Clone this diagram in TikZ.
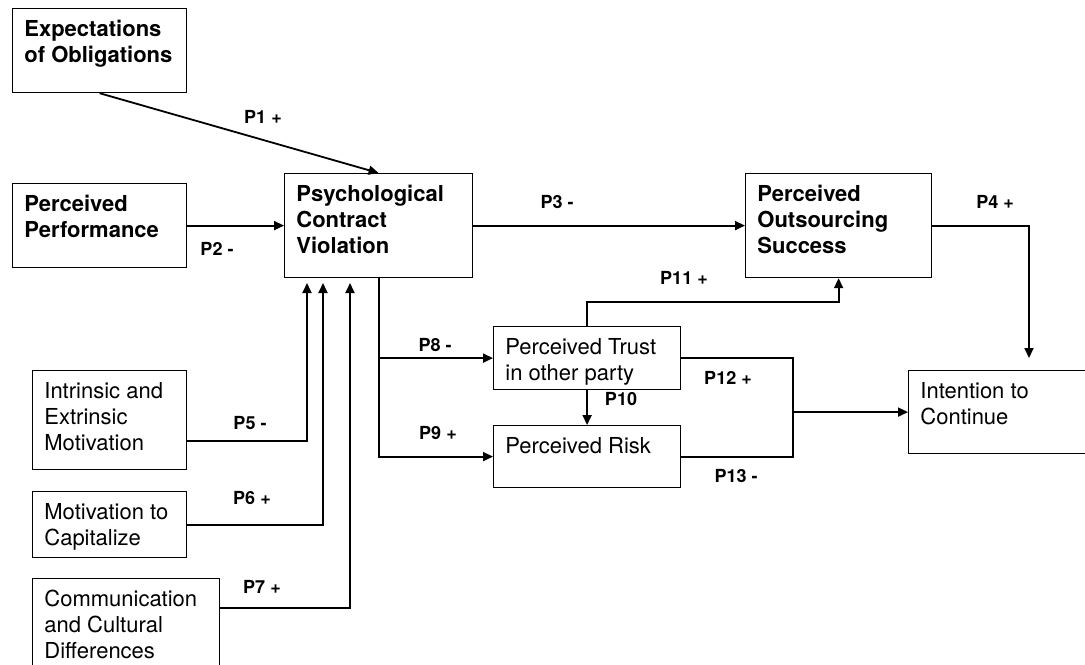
\documentclass[tikz,border=0pt]{standalone}
\usepackage{fontspec}
\setmainfont{TeX Gyre Heros}
\usetikzlibrary{arrows.meta}

\tikzset{
  box/.style={draw, line width=0.6pt, anchor=north west, inner sep=0pt},
  boxtext/.style={anchor=north west, align=left, inner xsep=6pt, inner ysep=6pt,
    font=\fontsize{11}{13}\selectfont},
  boldtext/.style={boxtext, font=\fontsize{11}{13}\selectfont\bfseries},
  plabel/.style={font=\fontsize{9}{10}\selectfont\bfseries, inner sep=0pt},
  link/.style={line width=0.9pt, -{Triangle[length=5pt,width=4.5pt]}},
  plain/.style={line width=0.9pt}
}

\begin{document}
\begin{tikzpicture}[x=0.5pt,y=-0.5pt]
\useasboundingbox (0,0) rectangle (1085,664);

% boxes: name / x / y / width / height / text style / text
\foreach \n/\x/\y/\w/\h/\s/\t in {
    exp/12/8/87/42/boldtext/{Expectations\\of Obligations},
    perf/12/183/87/42/boldtext/{Perceived\\Performance},
    pcv/284/173/94/52/boldtext/{Psychological\\Contract\\Violation},
    pos/745/173/93/52/boldtext/{Perceived\\Outsourcing\\Success},
    trust/493/326/93.5/31.5/boxtext/{Perceived Trust\\in other party},
    risk/493/425/93.5/31/boxtext/{Perceived Risk},
    intent/908/370/90/41.5/boxtext/{Intention to\\Continue},
    intr/32/370/77/49.5/boxtext/{Intrinsic and\\Extrinsic\\Motivation},
    cap/32/491/77/33/boxtext/{Motivation to\\Capitalize},
    comm/32/578/93.5/44/boxtext/{Communication\\and Cultural\\Differences}%
  }
  {
    \node[box, minimum width=\w pt, minimum height=\h pt] (\n) at (\x,\y) {};
    \node[\s] (\n-t) at (\n.north west) {\t};
  }

% path labels
\foreach \n/\x/\y/\t in {
    p1/263/117/{P1 +}, p2/217/249/{P2 -}, p3/557/202/{P3 -}, p4/995/202/{P4 +},
    p5/250/423/{P5 -}, p6/252/498/{P6 +}, p7/262/587/{P7 +},
    p8/435/345/{P8 -}, p9/438/433/{P9 +}, p10/621/399/{P10},
    p11/684/278/{P11 +}, p12/728/378/{P12 +}, p13/736/476/{P13 -}%
  }
  \node[plabel] (\n) at (\x,\y) {\t};

\coordinate (p4end) at (1029,358);
\coordinate (p5end) at (307,283);
\coordinate (p6end) at (323,283);
\coordinate (p7end) at (350,283);
\coordinate (join) at (793,412);

\draw[link] (exp.south) -- (pcv.north);
\draw[link] (perf.east) -- (pcv.west);
\draw[link] (pcv.east) -- (pos.west);
\draw[link] (pos.east) -| (p4end);

\draw[link] (intr.east |- 0,441) -| (p5end);
\draw[link] (cap.east) -| (p6end);
\draw[link] (comm.east |- 0,608) -| (p7end);

\draw[link] (pcv.south) |- (risk.west);
\draw[link] (pcv.south |- trust.west) -- (trust.west);
\draw[link] (trust.south) -- (risk.north);
\draw[link] (trust.north) |- (pos.south |- 0,302) -- (pos.south);

\draw[plain] (trust.east) -| (join);
\draw[plain] (risk.east) -| (join);
\draw[link] (join) -- (intent.west);

\end{tikzpicture}
\end{document}
